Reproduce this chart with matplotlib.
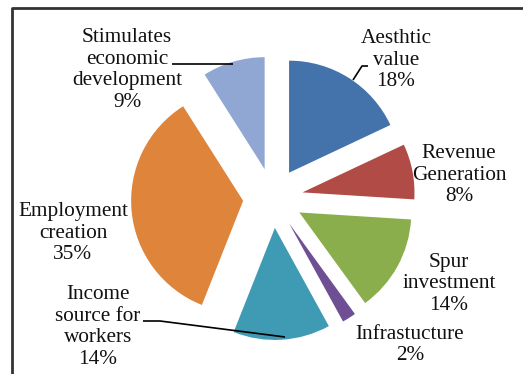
import matplotlib
matplotlib.use("Agg")
import matplotlib.pyplot as plt

plt.rcParams["font.family"] = "serif"
plt.rcParams["font.serif"] = ["Liberation Serif", "DejaVu Serif"]

labels = ["Aesthtic\nvalue", "Revenue\nGeneration", "Spur\ninvestment", "Infrastucture",
          "Income\nsource for\nworkers", "Employment\ncreation", "Stimulates\neconomic\ndevelopment"]
values = [18, 8, 14, 2, 14, 35, 9]
colors = ["#4472AA", "#B04B45", "#8BAE4C", "#6E4F94", "#3F9AB3", "#DF843B", "#91A7D3"]

W, H = 523, 374
fig = plt.figure(figsize=(W / 100, H / 100), dpi=100)
ax = fig.add_axes([0, 0, 1, 1])

cx, cy, R = 273, H - 198, 112
wedges, _ = ax.pie(values, colors=colors, startangle=90, counterclock=False,
                   explode=[30] * len(values), radius=R, center=(cx, cy),
                   wedgeprops=dict(linewidth=0))
ax.set_xlim(0, W)
ax.set_ylim(0, H)
ax.set_aspect("equal", adjustable="box")
ax.axis("off")

# label positions in image pixels (x, y from top)
label_pos = [(396, 60), (459, 175), (449, 284), (410, 345), (98, 327), (73, 233), (127, 70)]
for lab, v, (x, y) in zip(labels, values, label_pos):
    ax.text(x, H - y, f"{lab}\n{v}%", ha="center", va="center", fontsize=15.3,
            linespacing=1.2, color="#111111")

# leader lines
leaders = [
    [(353, 80), (362, 66), (368, 66)],
    [(172, 64), (233, 64)],
    [(143, 321), (160, 321), (285, 337)],
]
for pts in leaders:
    xs = [p[0] for p in pts]
    ys = [H - p[1] for p in pts]
    ax.plot(xs, ys, color="black", lw=1.2, solid_capstyle="butt")

# outer frame (clipped at right and bottom)
ax.plot([12, 12, W + 5], [-5, H - 8, H - 8], color="#333333", lw=2, clip_on=False)

fig.savefig("out.png", dpi=100)
